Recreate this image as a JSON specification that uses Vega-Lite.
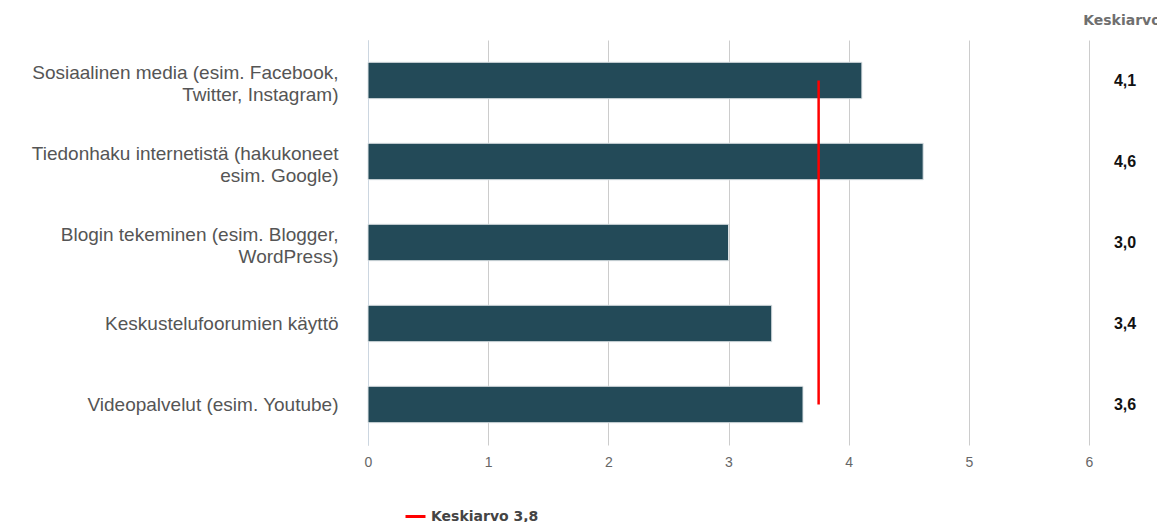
{
  "$schema": "https://vega.github.io/schema/vega-lite/v6.json",
  "width": 721,
  "height": 405,
  "autosize": "none",
  "padding": {"left": 368, "top": 40, "right": 68, "bottom": 77},
  "background": "white",
  "config": {
    "view": {"stroke": null},
    "font": "Liberation Sans"
  },
  "title": {
    "text": "Keskiarvo",
    "anchor": "end",
    "align": "left",
    "dx": -53,
    "offset": 12,
    "fontSize": 14,
    "fontWeight": "bold",
    "color": "#6f6f6f",
    "font": "DejaVu Sans"
  },
  "datasets": {
    "bars": [
      {"kategoria": "Sosiaalinen media (esim. Facebook,\nTwitter, Instagram)", "arvo": 4.11, "teksti": "4,1"},
      {"kategoria": "Tiedonhaku internetistä (hakukoneet\nesim. Google)", "arvo": 4.62, "teksti": "4,6"},
      {"kategoria": "Blogin tekeminen (esim. Blogger,\nWordPress)", "arvo": 3.0, "teksti": "3,0"},
      {"kategoria": "Keskustelufoorumien käyttö", "arvo": 3.36, "teksti": "3,4"},
      {"kategoria": "Videopalvelut (esim. Youtube)", "arvo": 3.62, "teksti": "3,6"}
    ],
    "keski": [
      {"alku": "Sosiaalinen media (esim. Facebook,\nTwitter, Instagram)", "loppu": "Videopalvelut (esim. Youtube)", "keskiarvo": 3.75, "nimi": "Keskiarvo 3,8"}
    ]
  },
  "layer": [
    {
      "data": {"name": "bars"},
      "mark": {"type": "bar", "color": "#234a58", "stroke": "#dde3e6", "strokeWidth": 1},
      "encoding": {
        "y": {
          "field": "kategoria",
          "type": "nominal",
          "sort": null,
          "scale": {"paddingInner": 0.55, "paddingOuter": 0.275},
          "axis": {
            "title": null,
            "ticks": false,
            "domain": true,
            "domainColor": "#ccd6e0",
            "domainWidth": 1,
            "labelExpr": "split(datum.label, '\\n')",
            "labelFontSize": 19,
            "labelLineHeight": 22,
            "labelColor": "#555555",
            "labelPadding": 30,
            "labelLimit": 400,
            "labelOffset": {"condition": {"test": "indexof(datum.label, '\\n') >= 0", "value": -8}, "value": 0},
            "labelFont": "Liberation Sans"
          }
        },
        "x": {
          "field": "arvo",
          "type": "quantitative",
          "scale": {"domain": [0, 6], "nice": false},
          "axis": {
            "title": null,
            "values": [0, 1, 2, 3, 4, 5, 6],
            "format": "d",
            "grid": true,
            "gridColor": "#cccccc",
            "gridWidth": 1,
            "domain": false,
            "ticks": false,
            "labelFlush": false,
            "labelFontSize": 14,
            "labelColor": "#666666",
            "labelPadding": 10,
            "labelFont": "Liberation Sans"
          }
        }
      }
    },
    {
      "data": {"name": "bars"},
      "mark": {"type": "text", "fontWeight": "bold", "fontSize": 16, "color": "#111111", "align": "center", "clip": false},
      "encoding": {
        "y": {"field": "kategoria", "type": "nominal", "sort": null},
        "x": {"datum": 6.3, "type": "quantitative"},
        "text": {"field": "teksti"}
      }
    },
    {
      "data": {"name": "keski"},
      "mark": {"type": "rule", "strokeWidth": 2.5},
      "encoding": {
        "y": {"field": "alku", "type": "nominal", "sort": null},
        "y2": {"field": "loppu"},
        "x": {"field": "keskiarvo", "type": "quantitative"},
        "color": {
          "field": "nimi",
          "type": "nominal",
          "scale": {"range": ["#ff0000"]},
          "legend": {
            "title": null,
            "orient": "none",
            "legendX": 36,
            "legendY": 465,
            "symbolType": "stroke",
            "symbolSize": 400,
            "symbolStrokeWidth": 3,
            "labelFontSize": 14,
            "labelFontWeight": "bold",
            "labelColor": "#444444",
            "labelFont": "DejaVu Sans",
            "labelOffset": 4
          }
        }
      }
    }
  ]
}
